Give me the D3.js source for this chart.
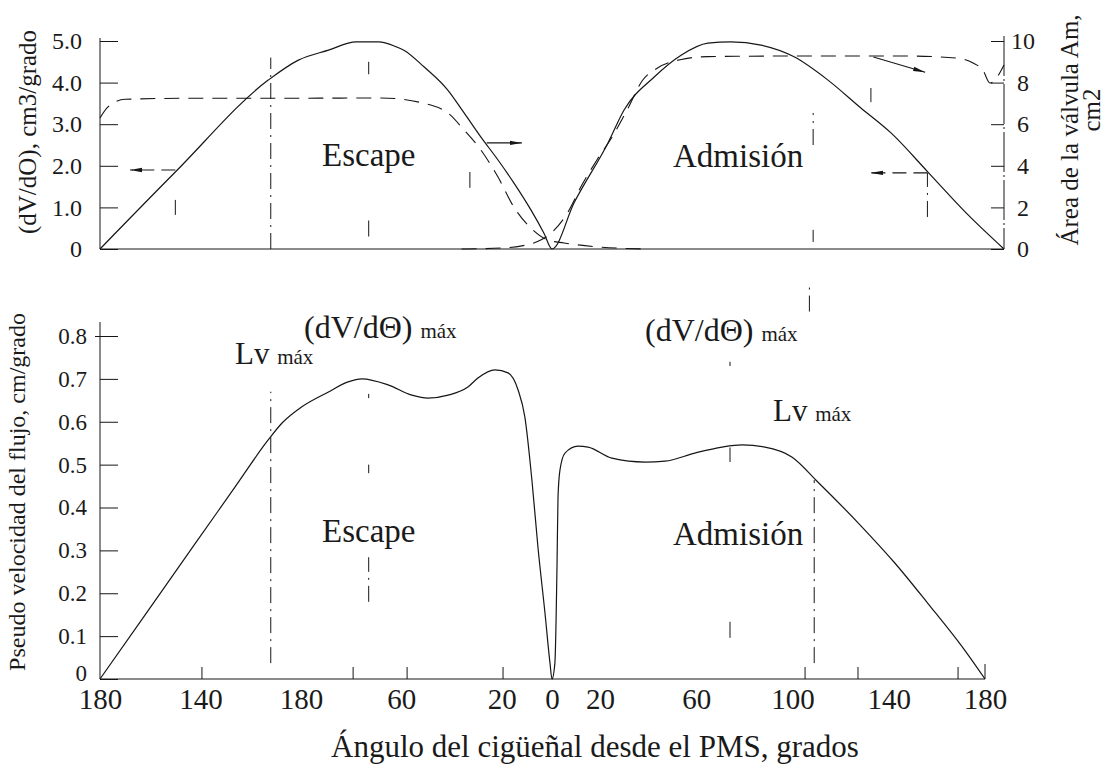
<!DOCTYPE html>
<html><head><meta charset="utf-8">
<script src="https://cdn.jsdelivr.net/npm/d3@7"></script>
<style>
body{margin:0;background:#fff}
svg{display:block}
text{font-family:"Liberation Serif","DejaVu Serif",serif;fill:#1a1a1a}
</style></head><body>
<svg id="chart" width="1111" height="766"></svg>
<script>
// Crank angle: negative = exhaust side (180 -> 0 before TDC), positive = intake side (0 -> 180).

// Top panel: volume rate dV/dθ (left axis, cm3/grado)
const dvAngles = [-180,-150,-113,-101,-89,-78,-69,-62,-59,-51,-41.5,-35,-28.3,-21.5,-15.2,-8.4,-3.2,0,
                  8.8,22.3,28.7,40.6,51.4,62.1,71.3,83.2,96.4,109.9,123,135,149.7,165.7,180];
const dvValues = [0,1.85,4.06,4.54,4.78,4.98,4.98,4.86,4.78,4.38,3.82,3.27,2.69,2.14,1.59,0.94,0.38,0,
                  1.11,2.55,3.34,4.13,4.66,4.95,4.98,4.9,4.62,4.06,3.39,2.79,1.85,0.82,0];

// Top panel: exhaust valve area (right axis, cm2)
const exhAreaAngles = [-180,-176.8,-170,-140,-100,-68,-48.3,-41.5,-35,-28.3,-21.5,-15.2,-8.4,-1.6,4.8,18.4,38.5];
const exhAreaValues = [6.3,6.83,7.2,7.25,7.25,7.26,6.92,6.54,5.72,4.76,3.46,2.02,1.01,0.43,0.29,0.1,0];

// Top panel: intake valve area (right axis, cm2)
const inAreaAngles = [-36,-20,-12,-6,0,6,12,18,24,30,36,42,51,62,100,140,161,167.7,171.6,174.4,180];
const inAreaValues = [0,0.05,0.15,0.35,0.8,1.7,3.1,4.3,5.4,6.7,8.1,8.7,9.1,9.25,9.28,9.28,9.18,8.94,8.6,7.98,8.85];

// Bottom panel: pseudo flow velocity (cm/grado)
const velAngles = [-180,-162.1,-142.2,-126.2,-113.1,-107.5,-99.6,-89.2,-81.2,-75.7,-65.3,-55.8,-49.4,-41.4,-33.5,-29.5,
                   -22.7,-17.5,-13.5,-10.8,-8,-5.6,-2.8,-0.8,0,
                   1.2,2.1,2.5,3.3,5.4,10.8,15,24.9,38.7,47,59.4,70.7,79,88.5,99.7,110.6,128.8,142.6,156.3,170.4,180];
const velValues = [0,0.149,0.315,0.448,0.557,0.597,0.635,0.669,0.693,0.70,0.686,0.662,0.655,0.662,0.681,0.702,
                   0.721,0.714,0.674,0.611,0.464,0.308,0.154,0.037,0,
                   0.037,0.27,0.424,0.487,0.527,0.543,0.541,0.515,0.506,0.508,0.527,0.541,0.546,0.541,0.518,0.459,0.355,0.27,0.176,0.076,0];

// Axis ticks and labels
const topLeftTicks = [0,1,2,3,4,5];
const topLeftLabels = ["0","1.0","2.0","3.0","4.0","5.0"];
const topRightTicks = [0,2,4,6,8,10];
const topRightLabels = ["0","2","4","6","8","10"];
const velTicks = [0,0.1,0.2,0.3,0.4,0.5,0.6,0.7,0.8];
const velLabels = ["0","0.1","0.2","0.3","0.4","0.5","0.6","0.7","0.8"];
const xTicks = [-180,-140,-100,-60,-20,0,20,60,100,140,180];
const xLabels = ["180","140","180","60","20","0","20","60","100","140","180"];
const baseTickAngles = [-139.4,-79.2,-57.7,-19.5,105.2,127.2,168.8];

// Reference guides: [angle, from, to] in panel units
const topGuides = [[-112,0,4.6],[-73,4.2,4.5],[-73,0.3,0.7],[104,2.5,3.27],[104,0.17,0.46],[149.5,0.77,1.83]];
const topMarks = [[-150,0.82,1.18],[-32.7,1.47,1.85],[127,3.53,3.87]];
const botGuides = [[-112,0.037,0.67],[-73,0.655,0.665],[-73,0.48,0.5],[-73,0.18,0.284],
                   [74,0.73,0.74],[74,0.506,0.54],[74,0.096,0.145],[109,0.037,0.464],[107,0.857,0.92]];

// Direction arrows in the top panel: [axis, fromAngle, fromValue, toAngle, toValue, dashed]
const topArrows = [["L",-150,1.9,-168,1.9,true],["L",-26,2.55,-12,2.55,false],
                   ["R",128,9.23,148.6,8.5,false],["L",149.5,1.83,127,1.83,true]];

const ink = "#161616";
const svg = d3.select("#chart");

const xTop = d3.scaleLinear().domain([-180,0,180]).range([100,552,1004]);
const xBot = d3.scaleLinear().domain([-180,0,180]).range([100,552,985]);
const yL = d3.scaleLinear().domain([0,5]).range([249,41]);
const yR = d3.scaleLinear().domain([0,10]).range([249,41]);
const yV = d3.scaleLinear().domain([0,0.8]).range([679,336]);

const defs = svg.append("defs");
defs.append("marker").attr("id","ah").attr("viewBox","0 0 12 6")
  .attr("refX",12).attr("refY",3).attr("markerWidth",12).attr("markerHeight",6)
  .attr("markerUnits","userSpaceOnUse").attr("orient","auto")
  .append("path").attr("d","M0,0.8L12,3L0,5.2Z").attr("fill",ink);

function curvePath(x, y, angles, values) {
  return d3.line().x((d,i)=>x(angles[i])).y((d,i)=>y(values[i])).curve(d3.curveMonotoneX)(angles);
}
function styleAxis(g, size) {
  g.select(".domain").remove();
  g.selectAll("line").attr("stroke", ink).attr("stroke-width", 1);
  g.selectAll("text").attr("font-size", size).attr("fill", "#1a1a1a")
    .attr("font-family", '"Liberation Serif",serif');
}

// ---- Top panel frame ----
svg.append("line").attr("x1",100).attr("x2",100).attr("y1",38).attr("y2",249).attr("stroke",ink);
svg.append("line").attr("x1",1004).attr("x2",1004).attr("y1",36).attr("y2",249).attr("stroke",ink)
  .attr("stroke-dasharray","40,3,2,3");
svg.append("line").attr("x1",100).attr("x2",1004).attr("y1",249).attr("y2",249).attr("stroke",ink);

const gTL = svg.append("g").attr("transform","translate(100,0)")
  .call(d3.axisLeft(yL).tickValues(topLeftTicks).tickFormat((d,i)=>topLeftLabels[i])
    .tickSizeInner(-18).tickSizeOuter(0).tickPadding(18));
styleAxis(gTL, 24);
const gTR = svg.append("g").attr("transform","translate(1004,0)")
  .call(d3.axisRight(yR).tickValues(topRightTicks).tickFormat((d,i)=>topRightLabels[i])
    .tickSizeInner(-13).tickSizeOuter(0).tickPadding(6));
styleAxis(gTR, 24);
gTR.selectAll("text").attr("text-anchor","middle").attr("x",19);

// guides
svg.append("g").selectAll("line").data(topGuides).join("line")
  .attr("x1",d=>xTop(d[0])).attr("x2",d=>xTop(d[0]))
  .attr("y1",d=>yL(d[1])).attr("y2",d=>yL(d[2]))
  .attr("stroke",ink).attr("stroke-width",1).attr("stroke-dasharray","16,6,2,6");
svg.append("g").selectAll("line").data(topMarks).join("line")
  .attr("x1",d=>xTop(d[0])).attr("x2",d=>xTop(d[0]))
  .attr("y1",d=>yL(d[1])).attr("y2",d=>yL(d[2]))
  .attr("stroke",ink).attr("stroke-width",1);

// curves
svg.append("path").attr("d",curvePath(xTop,yL,dvAngles,dvValues))
  .attr("fill","none").attr("stroke",ink).attr("stroke-width",1.2);
svg.append("path").attr("d",curvePath(xTop,yR,exhAreaAngles,exhAreaValues))
  .attr("fill","none").attr("stroke",ink).attr("stroke-width",1.1).attr("stroke-dasharray","15,9");
svg.append("path").attr("d",curvePath(xTop,yR,inAreaAngles,inAreaValues))
  .attr("fill","none").attr("stroke",ink).attr("stroke-width",1.1).attr("stroke-dasharray","15,9");

// arrows
svg.append("g").selectAll("line").data(topArrows).join("line")
  .attr("x1",d=>xTop(d[1])).attr("y1",d=>(d[0]==="L"?yL:yR)(d[2]))
  .attr("x2",d=>xTop(d[3])).attr("y2",d=>(d[0]==="L"?yL:yR)(d[4]))
  .attr("stroke",ink).attr("stroke-width",1.1)
  .attr("stroke-dasharray",d=>d[5]?"14,7":null)
  .attr("marker-end","url(#ah)");

// ---- Bottom panel ----
svg.append("line").attr("x1",100).attr("x2",100).attr("y1",322).attr("y2",679).attr("stroke",ink);
svg.append("line").attr("x1",100).attr("x2",985).attr("y1",679).attr("y2",679).attr("stroke",ink);
svg.append("line").attr("x1",xBot(180)).attr("x2",xBot(180)).attr("y1",664).attr("y2",679).attr("stroke",ink);

const gBL = svg.append("g").attr("transform","translate(100,0)")
  .call(d3.axisLeft(yV).tickValues(velTicks).tickFormat((d,i)=>velLabels[i])
    .tickSizeInner(-18).tickSizeOuter(0).tickPadding(13));
styleAxis(gBL, 23);
gBL.selectAll(".tick").filter(d=>d===0.8).select("line").attr("x1",-5);
gBL.selectAll(".tick").filter(d=>d===0).select("text").attr("dy","0.05em");

const gB = svg.append("g").attr("transform","translate(0,679)")
  .call(d3.axisBottom(xBot).tickValues(xTicks).tickFormat((d,i)=>xLabels[i])
    .tickSize(0).tickPadding(9));
styleAxis(gB, 29);

svg.append("g").selectAll("line").data(baseTickAngles).join("line")
  .attr("x1",d=>xBot(d)).attr("x2",d=>xBot(d))
  .attr("y1",yV(0)).attr("y2",yV(0)-12).attr("stroke",ink);

svg.append("g").selectAll("line").data(botGuides).join("line")
  .attr("x1",d=>xBot(d[0])).attr("x2",d=>xBot(d[0]))
  .attr("y1",d=>yV(d[1])).attr("y2",d=>yV(d[2]))
  .attr("stroke",ink).attr("stroke-width",1).attr("stroke-dasharray","16,6,2,6");

svg.append("path").attr("d",curvePath(xBot,yV,velAngles,velValues))
  .attr("fill","none").attr("stroke",ink).attr("stroke-width",1.2);

// ---- Text ----
function label(x, y, parts) {
  const t = svg.append("text").attr("x",x).attr("y",y);
  parts.forEach(p => t.append("tspan").attr("font-size",p[1]).text(p[0]));
  return t;
}
label(322,166,[["Escape",33]]);
label(673,167,[["Admisión",33]]);
label(322,542,[["Escape",33]]);
label(673,545,[["Admisión",33]]);
label(304,338,[["(dV/dΘ) ",32],["máx",21]]);
label(645,341,[["(dV/dΘ) ",32],["máx",21]]);
label(235,364,[["Lv ",31],["máx",21]]);
label(773,421,[["Lv ",31],["máx",21]]);

svg.append("text").attr("transform","translate(36,132) rotate(-90)")
  .attr("text-anchor","middle").attr("font-size",25).text("(dV/dO), cm3/grado");
svg.append("text").attr("transform","translate(25,492) rotate(-90)")
  .attr("text-anchor","middle").attr("font-size",24).text("Pseudo velocidad del flujo, cm/grado");
svg.append("text").attr("transform","translate(1078,130) rotate(-90)")
  .attr("text-anchor","middle").attr("font-size",25).text("Área de la válvula Am,");
svg.append("text").attr("transform","translate(1100,110) rotate(-90)")
  .attr("text-anchor","middle").attr("font-size",25).text("cm2");
svg.append("text").attr("x",595).attr("y",757).attr("text-anchor","middle")
  .attr("font-size",31).text("Ángulo del cigüeñal desde el PMS, grados");
</script>
</body></html>
